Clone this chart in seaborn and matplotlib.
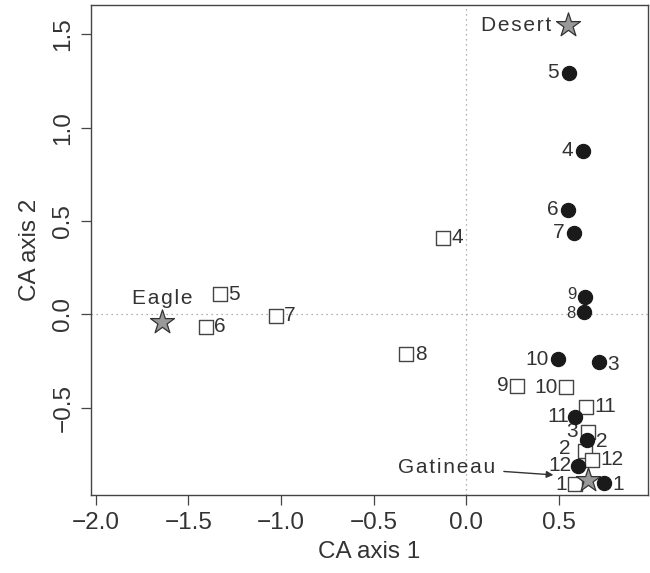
import matplotlib
matplotlib.use("Agg")
import matplotlib.pyplot as plt
import seaborn as sns
import pandas as pd

# Sampling months (labels of the points)
months = [str(m) for m in range(1, 13)]

# Filled circles: CA scores per month
circle_x = [0.742, 0.654, 0.715, 0.630, 0.554, 0.551, 0.580, 0.635, 0.639, 0.495, 0.587, 0.603]
circle_y = [-0.902, -0.673, -0.254, 0.876, 1.294, 0.562, 0.437, 0.011, 0.094, -0.241, -0.548, -0.811]

# Open squares: CA scores per month
square_x = [0.587, 0.639, 0.655, -0.125, -1.330, -1.405, -1.029, -0.323, 0.271, 0.538, 0.648, 0.681]
square_y = [-0.911, -0.731, -0.629, 0.412, 0.107, -0.066, -0.008, -0.214, -0.382, -0.391, -0.495, -0.779]

# Sites (stars)
site_names = ["Desert", "Eagle", "Gatineau"]
site_x = [0.549, -1.644, 0.657]
site_y = [1.550, -0.043, -0.888]

circles = pd.DataFrame({"x": circle_x, "y": circle_y, "month": months})
squares = pd.DataFrame({"x": square_x, "y": square_y, "month": months})
sites = pd.DataFrame({"x": site_x, "y": site_y, "site": site_names})

sns.set_style("white")
plt.rcParams["font.family"] = ["Liberation Sans", "DejaVu Sans"]


def spaced(s):
    # the original uses wide letter spacing for the site names
    return "\u200a".join(s)


fig = plt.figure(figsize=(6.5, 5.73), dpi=100)
ax = fig.add_axes([0.14, 0.136, 0.857, 0.855])

ax.axvline(0, color="#999999", lw=0.9, ls=(0, (1, 3)), zorder=0)
ax.axhline(0, color="#999999", lw=0.9, ls=(0, (1, 3)), zorder=0)

sns.scatterplot(data=squares, x="x", y="y", marker="s", s=95,
                facecolor="white", edgecolor="#444444", linewidth=1.0, ax=ax, zorder=2)
sns.scatterplot(data=sites, x="x", y="y", marker="*", s=330,
                color="#999999", edgecolor="#333333", linewidth=0.9, ax=ax, zorder=3)
sns.scatterplot(data=circles, x="x", y="y", marker="o", s=105,
                color="#1a1a1a", edgecolor="#1a1a1a", ax=ax, zorder=4)

txt = dict(color="#333333", va="center")

# label sides / nudges (offset points) and sizes for crowded labels
circle_off = {"1": (6, -1), "2": (6, -1), "3": (6, -2), "11": (-4, 0), "12": (-5, 0),
              "8": (-6, -1), "9": (-6, 2)}
circle_size = {"8": 12, "9": 12}
square_off = {"1": (-6, 0), "2": (-10, 2), "3": (-7, 0), "9": (-6, 0), "10": (-6, 0)}

for _, r in circles.iterrows():
    dx, dy = circle_off.get(r["month"], (-7, 0))
    ax.annotate(r["month"], (r["x"], r["y"]), xytext=(dx, dy), textcoords="offset points",
                ha="left" if dx > 0 else "right",
                fontsize=circle_size.get(r["month"], 15), **txt)

for _, r in squares.iterrows():
    dx, dy = square_off.get(r["month"], (6, 0))
    ax.annotate(r["month"], (r["x"], r["y"]), xytext=(dx, dy), textcoords="offset points",
                ha="left" if dx > 0 else "right", fontsize=15, **txt)

site_txt = dict(fontsize=15, color="#333333")
ax.annotate(spaced("Desert"), (site_x[0], site_y[0]), xytext=(-12, 0),
            textcoords="offset points", ha="right", va="center", **site_txt)
ax.annotate(spaced("Eagle"), (site_x[1], site_y[1]), xytext=(0, 17),
            textcoords="offset points", ha="center", va="center", **site_txt)
ax.annotate(spaced("Gatineau"), (0.47, -0.86), xytext=(0.155, -0.82),
            textcoords="data", ha="right", va="center",
            arrowprops=dict(arrowstyle="-|>", color="#333333", lw=1.0,
                            shrinkA=4, shrinkB=0, mutation_scale=10),
            **site_txt)

ax.set_xlim(-2.026, 0.981)
ax.set_ylim(-0.968, 1.657)
ax.set_xticks([-2.0, -1.5, -1.0, -0.5, 0.0, 0.5])
ax.set_yticks([-0.5, 0.0, 0.5, 1.0, 1.5])
ax.set_xticklabels(["\u22122.0", "\u22121.5", "\u22121.0", "\u22120.5", "0.0", "0.5"])
ax.set_yticklabels(["\u22120.5", "0.0", "0.5", "1.0", "1.5"], rotation=90, va="center")
ax.tick_params(axis="both", direction="out", length=7, width=0.9, color="#444444",
               labelsize=17.5, labelcolor="#333333", bottom=True, left=True, pad=5)
for sp in ax.spines.values():
    sp.set_color("#444444")
    sp.set_linewidth(1.0)

ax.set_xlabel("CA axis 1", fontsize=17.5, color="#333333", labelpad=5)
ax.set_ylabel("CA axis 2", fontsize=17.5, color="#333333", labelpad=8)

fig.savefig("out.png", dpi=100)
